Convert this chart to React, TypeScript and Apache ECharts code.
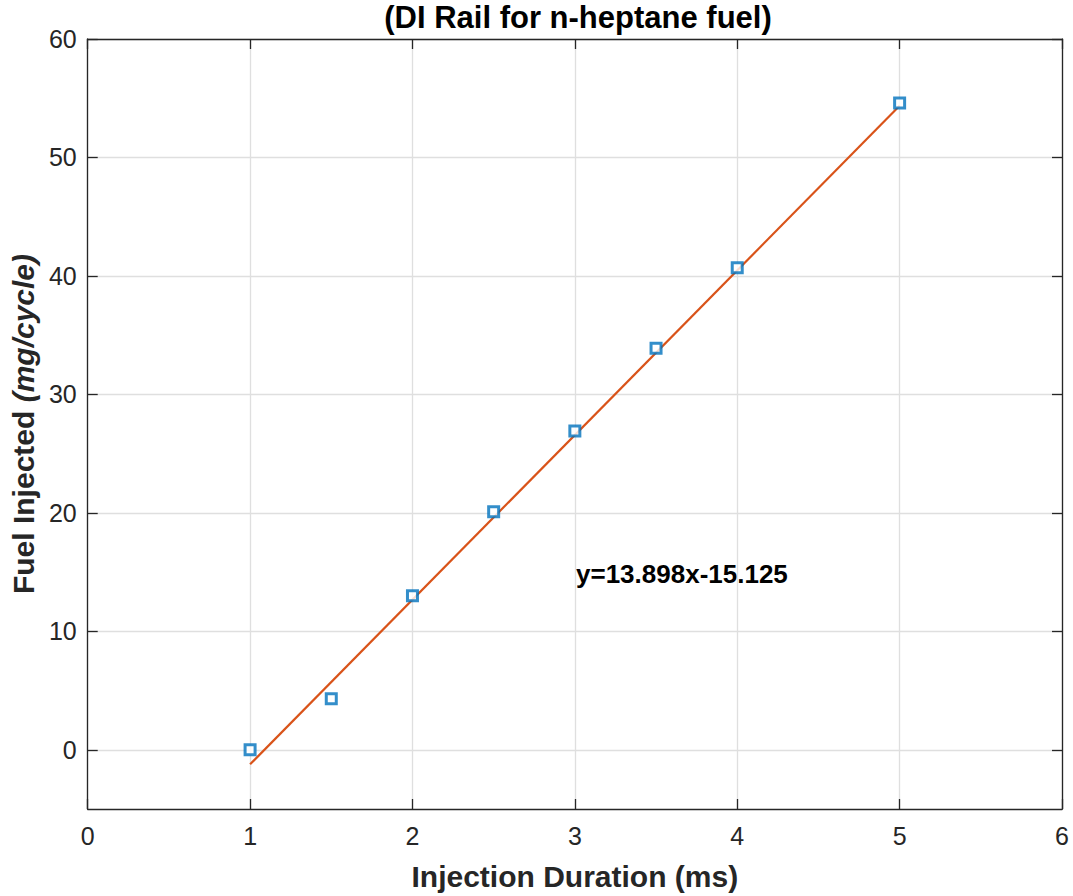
import React, { useEffect, useRef } from "react";
import * as echarts from "echarts";

const durations = [1, 1.5, 2, 2.5, 3, 3.5, 4, 5];
const fuelInjected = [0, 4.3, 13.0, 20.1, 26.9, 33.9, 40.7, 54.6];
const fitX = [1, 5];
const fitY = [-1.227, 54.365];
const fitLabel = "y=13.898x-15.125";
const titleText = "(DI Rail for n-heptane fuel)";
const yTicks = [0, 10, 20, 30, 40, 50, 60];

const FONT = "'Liberation Sans', Arial, Helvetica, sans-serif";

export default function App() {
  const ref = useRef<HTMLDivElement>(null);
  useEffect(() => {
    const chart = echarts.init(ref.current!, null, { renderer: "svg" });
    const axisLine = { show: true, onZero: false, lineStyle: { color: "#262626", width: 1.3 } };
    const tick = { show: true, inside: true, length: 10, lineStyle: { color: "#262626", width: 1.3 } };
    const yTick = { ...tick, customValues: yTicks };
    chart.setOption({
      animation: false,
      backgroundColor: "#ffffff",
      title: {
        text: titleText,
        left: 573,
        textAlign: "center",
        top: -3,
        textStyle: { fontFamily: FONT, fontSize: 31, fontWeight: "bold", color: "#000" },
      },
      grid: { left: 87, top: 39, width: 975, height: 770, containLabel: false },
      xAxis: [
        {
          type: "value",
          min: 0,
          max: 6,
          interval: 1,
          position: "bottom",
          axisLine,
          axisTick: tick,
          axisLabel: { margin: 14, fontFamily: FONT, fontSize: 25, color: "#262626" },
          splitLine: { show: true, lineStyle: { color: "#dfdfdf", width: 1.3 } },
          name: "Injection Duration (ms)",
          nameLocation: "middle",
          nameGap: 52,
          nameTextStyle: { fontFamily: FONT, fontSize: 30, fontWeight: "bold", color: "#262626" },
        },
        {
          type: "value",
          min: 0,
          max: 6,
          interval: 1,
          position: "top",
          axisLine,
          axisTick: tick,
          axisLabel: { show: false },
          splitLine: { show: false },
        },
      ],
      yAxis: [
        {
          type: "value",
          min: -5,
          max: 60,
          axisLine,
          axisTick: yTick,
          axisLabel: {
            margin: 11,
            fontFamily: FONT,
            fontSize: 25,
            color: "#262626",
            customValues: yTicks,
          },
          splitLine: { show: true, lineStyle: { color: "#dfdfdf", width: 1.3 } },
          name: "{b|Fuel Injected }{i|(mg/cycle)}",
          nameLocation: "middle",
          nameGap: 47,
          nameRotate: 90,
          nameTextStyle: {
            fontFamily: FONT,
            fontSize: 30,
            fontWeight: "bold",
            color: "#262626",
            rich: {
              b: { fontFamily: FONT, fontSize: 30, fontWeight: "bold", color: "#262626" },
              i: { fontFamily: FONT, fontSize: 30, fontWeight: "bold", fontStyle: "italic", color: "#262626" },
            },
          },
        },
        {
          type: "value",
          min: -5,
          max: 60,
          position: "right",
          axisLine,
          axisTick: yTick,
          axisLabel: { show: false, customValues: yTicks },
          splitLine: { show: false },
        },
      ],
      series: [
        {
          type: "line",
          data: fitX.map((x, i) => [x, fitY[i]]),
          symbol: "none",
          lineStyle: { color: "#D95319", width: 2.2 },
          z: 2,
        },
        {
          type: "scatter",
          data: durations.map((x, i) => [x, fuelInjected[i]]),
          symbol: "rect",
          symbolSize: 10,
          itemStyle: { color: "#ffffff", borderColor: "#0072BD", borderWidth: 3 },
          z: 3,
        },
      ],
      graphic: [
        {
          type: "text",
          left: 576,
          top: 561,
          style: { text: fitLabel, fontFamily: FONT, fontSize: 26, fontWeight: "bold", fill: "#000" },
        },
      ],
    });
    return () => chart.dispose();
  }, []);
  return <div ref={ref} style={{ width: 1073, height: 896, position: "absolute", left: 0, top: 0 }} />;
}
